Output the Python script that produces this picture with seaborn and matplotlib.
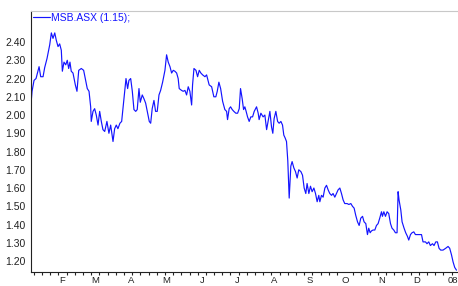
import pandas as pd
import matplotlib.pyplot as plt
import matplotlib.dates as mdates
import seaborn as sns

# Day offsets from 1 Jan 2007 and closing prices
day = [4.3, 5.4, 7.1, 8.8, 11.4, 12.8, 14.8, 16.2, 18.2, 20.5, 21.9, 23.3, 24.8, 26.1,
       27.6, 29.0, 30.4, 31.3, 32.7, 34.2, 35.5, 36.7, 37.8, 38.9, 40.4, 42.4, 43.8, 45.3,
       47.5, 49.5, 50.9, 52.6, 54.1, 55.5, 56.0, 57.5, 58.9, 60.3, 61.8, 63.2, 64.6, 66.0,
       67.5, 69.4, 71.1, 72.6, 74.6, 76.0, 77.4, 78.8, 80.5, 82.0, 83.4, 84.8, 85.7, 87.1,
       88.2, 89.7, 91.1, 92.5, 94.0, 95.3, 96.8, 97.9, 99.6, 101.0, 102.5, 103.9, 105.6,
       106.8, 108.1, 109.6, 111.0, 112.4, 113.9, 115.3, 117.0, 119.0, 120.4, 121.8, 123.3,
       124.7, 126.1, 127.5, 129.0, 130.3, 131.2, 133.2, 134.6, 136.1, 137.5, 138.9, 140.3,
       141.8, 142.6, 143.8, 145.5, 146.9, 148.3, 149.7, 151.2, 153.2, 154.6, 156.8, 158.9,
       160.8, 162.5, 163.7, 165.1, 166.6, 168.3, 170.2, 171.7, 172.5, 173.9, 175.1, 176.5,
       177.9, 179.6, 181.1, 182.5, 183.6, 185.0, 186.2, 187.3, 188.4, 189.6, 191.0, 192.4,
       193.9, 195.3, 197.3, 198.7, 199.5, 201.0, 202.9, 204.4, 205.9, 207.2, 208.7, 210.1,
       211.2, 212.3, 213.8, 215.3, 216.6, 218.1, 219.5, 220.6, 221.7, 222.9, 224.0, 225.2,
       226.6, 227.7, 229.2, 230.6, 232.0, 233.4, 235.2, 236.6, 238.0, 239.4, 240.5, 242.0,
       243.4, 244.8, 246.3, 247.7, 249.1, 250.5, 251.4, 252.8, 254.2, 255.7, 257.1, 258.5,
       259.9, 261.4, 262.7, 264.2, 265.6, 267.0, 268.5, 269.9, 271.3, 272.7, 274.7, 276.2,
       277.9, 279.3, 280.7, 282.1, 283.6, 285.0, 286.4, 287.9, 289.2, 290.7, 292.1, 293.2,
       294.4, 295.5, 296.9, 298.4, 299.8, 301.2, 302.6, 304.1, 304.9, 306.1, 307.5, 308.9,
       310.3, 311.8, 313.1, 314.6, 316.0, 317.4, 318.3, 319.1, 320.6, 321.7, 323.4, 324.8,
       326.3, 327.4, 328.9, 330.2, 331.7, 333.1, 335.4, 338.3, 339.6, 341.7, 343.0, 344.5,
       345.9, 347.7, 349.0, 350.5, 351.9, 353.3, 354.7, 356.7, 359.0, 361.0, 362.4, 363.9,
       365.3, 366.7, 368.2]
price = [2.045, 2.13, 2.19, 2.20, 2.265, 2.21, 2.21, 2.26, 2.31, 2.385, 2.45, 2.42, 2.45, 2.41,
         2.375, 2.39, 2.355, 2.24, 2.29, 2.275, 2.30, 2.255, 2.29, 2.24, 2.23, 2.165, 2.13, 2.245,
         2.255, 2.245, 2.20, 2.145, 2.13, 2.045, 1.965, 2.02, 2.035, 2.00, 1.945, 2.02, 1.965, 1.92,
         1.91, 1.965, 1.90, 1.945, 1.855, 1.925, 1.945, 1.925, 1.955, 1.965, 2.055, 2.145, 2.20, 2.145,
         2.19, 2.20, 2.13, 2.03, 2.02, 2.03, 2.145, 2.07, 2.11, 2.09, 2.065, 2.02, 1.965,
         1.955, 2.035, 2.08, 2.02, 2.02, 2.11, 2.135, 2.18, 2.245, 2.33, 2.29, 2.265,
         2.23, 2.245, 2.24, 2.23, 2.20, 2.145, 2.135, 2.13, 2.135, 2.11, 2.155, 2.13,
         2.055, 2.165, 2.255, 2.245, 2.21, 2.245, 2.23, 2.22, 2.21, 2.22, 2.165, 2.155,
         2.10, 2.10, 2.13, 2.18, 2.145, 2.075, 2.03, 2.02, 1.975, 2.035, 2.045, 2.03,
         2.02, 2.01, 2.01, 2.035, 2.145, 2.09, 2.03, 2.045, 2.02, 1.99, 1.965, 1.99,
         1.99, 2.02, 2.045, 2.01, 1.975, 2.01, 1.99, 2.00, 1.92, 1.965, 2.02, 1.935,
         1.90, 1.98, 2.02, 1.965, 1.955, 1.965, 1.945, 1.89, 1.875, 1.855, 1.75, 1.545,
         1.72, 1.745, 1.71, 1.69, 1.655, 1.70, 1.69, 1.67, 1.60, 1.57, 1.625, 1.57,
         1.61, 1.58, 1.60, 1.57, 1.525, 1.56, 1.525, 1.56, 1.55, 1.60, 1.615, 1.59,
         1.57, 1.56, 1.57, 1.55, 1.57, 1.59, 1.60, 1.57, 1.535, 1.515, 1.515, 1.51,
         1.515, 1.50, 1.49, 1.45, 1.415, 1.395, 1.435, 1.445, 1.415, 1.405, 1.345, 1.38,
         1.355, 1.365, 1.37, 1.37, 1.395, 1.405, 1.435, 1.47, 1.445, 1.47, 1.445, 1.47,
         1.46, 1.405, 1.38, 1.37, 1.355, 1.355, 1.58, 1.535, 1.48, 1.415, 1.38, 1.355,
         1.335, 1.315, 1.345, 1.355, 1.36, 1.345, 1.345, 1.345, 1.305, 1.305, 1.295, 1.305,
         1.285, 1.295, 1.285, 1.305, 1.305, 1.27, 1.26, 1.26, 1.27, 1.28, 1.27, 1.235,
         1.195, 1.165, 1.15]

month_labels = ['F', 'M', 'A', 'M', 'J', 'J', 'A', 'S', 'O', 'N', 'D', '08']
y_ticks = [1.20, 1.30, 1.40, 1.50, 1.60, 1.70, 1.80, 1.90, 2.00, 2.10, 2.20, 2.30, 2.40]
series_name = 'MSB.ASX (1.15);'

start = pd.Timestamp('2007-01-01')
df = pd.DataFrame({'Date': start + pd.to_timedelta(day, unit='D'), 'Price': price})

sns.set_style('white')
plt.rcParams['font.family'] = ['Liberation Sans', 'DejaVu Sans']

fig = plt.figure(figsize=(4.58, 2.86), dpi=100)
ax = fig.add_axes([31 / 458, 14 / 286, 427 / 458, 261 / 286])

sns.lineplot(x='Date', y='Price', data=df, ax=ax, color='#1414ff', linewidth=0.85,
             label=series_name)

ax.set_xlim(start + pd.Timedelta(days=4.5), start + pd.Timedelta(days=369.5))
ax.set_ylim(1.14, 2.57)

ax.set_xticks(pd.date_range('2007-02-01', periods=12, freq='MS'))
ax.set_xticklabels(month_labels)
ax.xaxis.set_minor_locator(mdates.WeekdayLocator(byweekday=mdates.MO))
ax.set_yticks(y_ticks)
ax.set_yticklabels(['%.2f' % v for v in y_ticks])

ax.tick_params(axis='both', which='major', labelsize=7.5, colors='#222222',
               length=3, width=0.8, pad=1)
ax.tick_params(axis='x', which='major', length=3, pad=0, labelsize=6.8)
ax.tick_params(axis='x', which='minor', bottom=True, length=2, width=0.8, color='#222222')
ax.set_xlabel('')
ax.set_ylabel('')

for s in ['left', 'bottom']:
    ax.spines[s].set_color('#222222')
    ax.spines[s].set_linewidth(0.8)
ax.spines['top'].set_color('#c8c8c8')
ax.spines['top'].set_linewidth(0.8)
ax.spines['right'].set_visible(False)

ax.legend(loc='upper left', frameon=False, fontsize=7.5, handlelength=1.6,
          handletextpad=0.15, borderaxespad=0.1, borderpad=0.1, labelcolor='linecolor')

plt.savefig('out.png', dpi=100)
plt.close()
